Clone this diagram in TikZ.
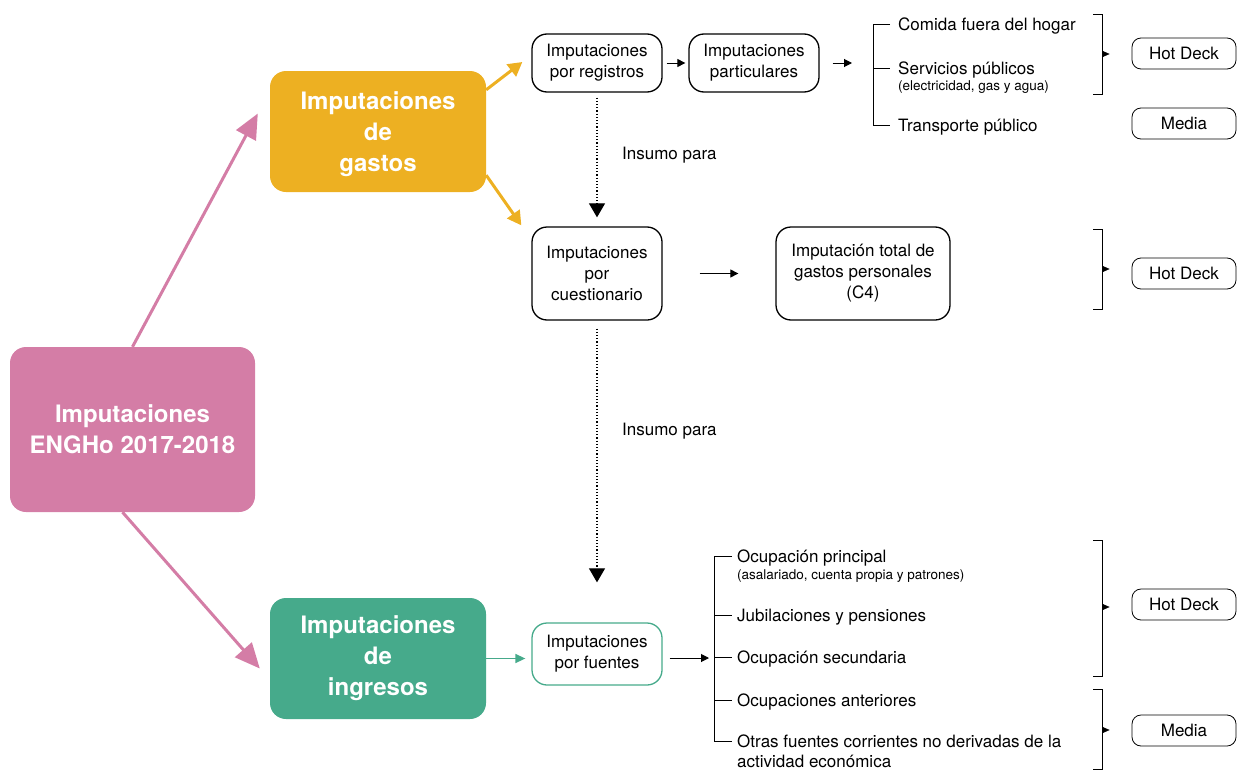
\documentclass[tikz,border=0pt]{standalone}
\usepackage{fontspec}
\setmainfont{TeX Gyre Heros}
\usetikzlibrary{arrows.meta,calc}
\definecolor{pinkc}{HTML}{D47DA6}
\definecolor{orangec}{HTML}{EDB022}
\definecolor{tealc}{HTML}{46AA8B}
\newcommand\fsBox{\fontsize{17}{21}\selectfont}
\newcommand\fsCat{\fontsize{24}{31}\selectfont\bfseries}
\newcommand\fsSmall{\fontsize{13.5}{16}\selectfont}
\begin{document}
\begin{tikzpicture}[x=1pt,y=-1pt,
  cat/.style={rounded corners=16pt, text=white, align=center, font=\fsCat, inner sep=0pt},
  pbox/.style={draw, rounded corners=15pt, line width=1.3pt, align=center, font=\fsBox, inner sep=0pt},
  mbox/.style={draw, rounded corners=9pt, line width=0.8pt, minimum width=104pt, minimum height=31pt, font=\fsBox, inner sep=0pt},
  item/.style={anchor=base west, font=\fsBox, inner sep=0pt},
  sub/.style={anchor=base west, font=\fsSmall, inner sep=0pt},
  blk/.style={line width=1pt, -{Triangle[length=8pt,width=8pt]}},
  brk/.style={line width=1pt},
  bt/.style={-{Triangle[length=7pt,width=6pt]}, line width=0.6pt},
  dots/.style={line width=1.2pt, dotted, -{Triangle[length=14pt,width=16pt]}}
]
\useasboundingbox (0,0) rectangle (1242,771);

% category boxes
\node[cat, fill=pinkc, minimum width=245pt, minimum height=165pt] (main) at (132.5,429.5) {Imputaciones\\ENGHo 2017-2018};
\node[cat, fill=orangec, minimum width=216pt, minimum height=121pt] (gas) at (378,131.5) {};
\node[cat] (gasT) at (378,134) {Imputaciones\\de\\gastos};
\node[cat, fill=tealc, minimum width=216pt, minimum height=121pt] (ing) at (378,658.5) {Imputaciones\\de\\ingresos};

% pink arrows
\draw[pinkc, line width=3pt, -{Triangle[length=25pt,width=22pt]}] (main.north) -- ($(gas.west)+(-12,-18)$);
\draw[pinkc, line width=3pt, -{Triangle[length=25pt,width=22pt]}] ($(main.south)+(-10,0)$) -- ($(ing.west)+(-10,10)$);

% process boxes
\node[pbox, minimum width=130pt, minimum height=58pt] (reg) at (597,63) {Imputaciones\\por registros};
\node[pbox, minimum width=130pt, minimum height=58pt] (par) at (754,63) {Imputaciones\\particulares};
\node[pbox, minimum width=130pt, minimum height=93pt] (cue) at (597,273.5) {Imputaciones\\por\\cuestionario};
\node[pbox, minimum width=174pt, minimum height=93pt] (tot) at (863,273.5) {Imputación total de\\gastos personales\\(C4)};
\node[pbox, draw=tealc, minimum width=130pt, minimum height=62pt] (fue) at (597,654) {Imputaciones\\por fuentes};

% orange arrows
\draw[orangec, line width=3pt, -{Triangle[length=14pt,width=15pt]}] ($(gas.north east)+(0,19)$) -- ($(reg.west)+(-9,-1)$);
\draw[orangec, line width=3pt, -{Triangle[length=14pt,width=15pt]}] ($(gas.south east)+(0,-17)$) -- ($(cue.north west)+(-10,-1)$);
% teal arrow
\draw[tealc, line width=1.5pt, -{Triangle[length=10pt,width=9pt]}, shorten >=6pt] (ing.east) -- (fue.west |- ing.east);

% coordinates of brackets
\coordinate (b1) at (873,63);
\coordinate (b3) at (714,658);
\coordinate (r1) at (1102,54);
\coordinate (r2) at (1102,269);
\coordinate (r3) at (1102,607);
\coordinate (r4) at (1102,730);

% black arrows
\draw[blk, shorten <=4pt, shorten >=3pt] (reg.east) -- (par.west);
\draw[blk, shorten <=13pt, shorten >=21pt] (par.east) -- (b1);
\draw[blk, shorten <=37pt, shorten >=37pt] (cue.east) -- (tot.west);
\draw[blk, shorten <=7pt, shorten >=5pt] (fue.east |- b3) -- (b3);

% dotted arrows
\draw[dots, shorten <=5pt, shorten >=9pt] (reg.south) -- (cue.north);
\draw[dots, shorten <=8pt, shorten >=40pt] (cue.south) -- (fue.north);
\node[item] (ins1) at (622,159) {Insumo para};
\node[item] (ins2) at (622,435) {Insumo para};

% gastos list
\draw[brk] (890,24) -- (873,24) -- (873,125) -- (890,125);
\draw[brk] (873,68) -- (890,68);
\node[item] (g1) at (898,30) {Comida fuera del hogar};
\node[item] (g2) at (898,74) {Servicios públicos};
\node[sub] (g2s) at (898,90) {(electricidad, gas y agua)};
\node[item] (g3) at (898,131) {Transporte público};

% right brackets gastos
\draw[brk] (1093,14) -- (1102,14) -- (1102,94) -- (1093,94);
\draw[brk] (1093,229) -- (1102,229) -- (1102,309) -- (1093,309);

% ingresos list
\draw[brk] (732,556) -- (714,556) -- (714,741) -- (732,741);
\draw[brk] (714,615) -- (732,615);
\draw[brk] (714,657) -- (732,657);
\draw[brk] (714,700) -- (732,700);
\node[item] (i1) at (737,562) {Ocupación principal};
\node[sub] (i1s) at (737,579) {(asalariado, cuenta propia y patrones)};
\node[item] (i2) at (737,621) {Jubilaciones y pensiones};
\node[item] (i3) at (737,663) {Ocupación secundaria};
\node[item] (i4) at (737,706) {Ocupaciones anteriores};
\node[item] (i5) at (737,747) {Otras fuentes corrientes no derivadas de la};
\node[item] (i5b) at (737,767) {actividad económica};

% right brackets ingresos
\draw[brk] (1093,540) -- (1102,540) -- (1102,676) -- (1093,676);
\draw[brk] (1093,689) -- (1102,689) -- (1102,769) -- (1093,769);

% method boxes
\node[mbox] (hd1) at (1184,53.5) {Hot Deck};
\node[mbox] (me1) at (1184,123.5) {Media};
\node[mbox] (hd2) at (1184,273.5) {Hot Deck};
\node[mbox] (hd3) at (1184,604.5) {Hot Deck};
\node[mbox] (me2) at (1184,730.5) {Media};

% bracket tips
\draw[bt, shorten >=22pt] (r1) -- (hd1.west |- r1);
\draw[bt, shorten >=22pt] (r2) -- (hd2.west |- r2);
\draw[bt, shorten >=22pt] (r3) -- (hd3.west |- r3);
\draw[bt, shorten >=22pt] (r4) -- (me2.west |- r4);
\end{tikzpicture}
\end{document}
